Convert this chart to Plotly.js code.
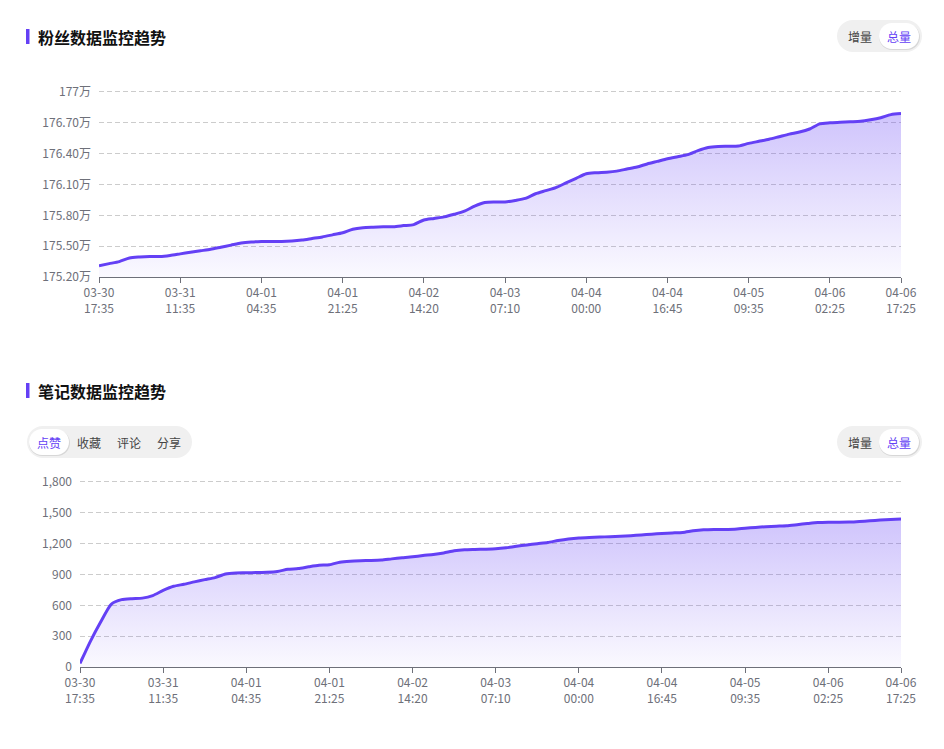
<!DOCTYPE html>
<html><head><meta charset="utf-8">
<script src="https://cdn.plot.ly/plotly-3.0.1.min.js"></script>
<style>html,body{margin:0;padding:0;background:#fff;} #chart{width:944px;height:749px;}</style>
</head><body><div id="chart"></div>
<script>
// ---- data ----
const tickIndex = [0, 8, 16, 24, 32, 40, 48, 56, 64, 72, 79];
const tickDates = ['03-30','03-31','04-01','04-01','04-02','04-03','04-04','04-04','04-05','04-06','04-06'];
const tickTimes = ['17:35','11:35','04:35','21:25','14:20','07:10','00:00','16:45','09:35','02:25','17:25'];

// 粉丝总量 (万)
const fansTotal = [
  175.31,175.33,175.35,175.385,175.395,175.40,175.40,175.41,175.425,175.44,
  175.455,175.47,175.49,175.51,175.53,175.54,175.545,175.545,175.545,175.55,
  175.56,175.575,175.59,175.61,175.63,175.665,175.68,175.685,175.688,175.69,
  175.70,175.71,175.755,175.77,175.785,175.81,175.84,175.89,175.925,175.93,
  175.93,175.945,175.965,176.01,176.04,176.07,176.115,176.16,176.205,176.215,
  176.22,176.23,176.25,176.27,176.30,176.325,176.35,176.37,176.39,176.43,
  176.46,176.47,176.472,176.475,176.50,176.52,176.54,176.565,176.59,176.61,
  176.64,176.69,176.70,176.705,176.71,176.715,176.73,176.75,176.78,176.79
];
const fansTickVals = [175.2, 175.5, 175.8, 176.1, 176.4, 176.7, 177];
const fansTickText = ['175.20万','175.50万','175.80万','176.10万','176.40万','176.70万','177万'];

// 点赞总量
const likesTotal = [
  35,250,440,610,655,665,670,695,745,785,
  805,828,850,870,905,915,916,919,922,930,
  950,958,975,990,995,1020,1030,1034,1036,1040,
  1052,1062,1072,1085,1095,1110,1130,1140,1143,1146,
  1150,1160,1175,1187,1200,1212,1230,1245,1255,1260,
  1264,1268,1272,1278,1285,1292,1299,1304,1309,1325,
  1335,1338,1338,1340,1350,1358,1365,1370,1374,1385,
  1396,1406,1409,1409,1410,1416,1422,1430,1436,1441
];
const likesTickVals = [0, 300, 600, 900, 1200, 1500, 1800];

const noteTabs = ['点赞','收藏','评论','分享'];
const modeTabs = ['增量','总量'];
const titles = ['粉丝数据监控趋势','笔记数据监控趋势'];

// ---- helpers ----
const W = 944, H = 749;
const X = v => v / W;
const Y = v => 1 - v / H;
const idx = fansTotal.map((_, i) => i);
const tickText = tickDates.map((d, i) => d + '<br>' + tickTimes[i]);

function pillPath(x0, y0, x1, y1) {
  const r = (y1 - y0) / 2, k = 0.5523 * r;
  const p = (x, y) => X(x) + ',' + Y(y);
  return 'M' + p(x0 + r, y0) + ' L' + p(x1 - r, y0) +
    ' C' + p(x1 - r + k, y0) + ' ' + p(x1, y0 + r - k) + ' ' + p(x1, y0 + r) +
    ' C' + p(x1, y0 + r + k) + ' ' + p(x1 - r + k, y1) + ' ' + p(x1 - r, y1) +
    ' L' + p(x0 + r, y1) +
    ' C' + p(x0 + r - k, y1) + ' ' + p(x0, y0 + r + k) + ' ' + p(x0, y0 + r) +
    ' C' + p(x0, y0 + r - k) + ' ' + p(x0 + r - k, y0) + ' ' + p(x0 + r, y0) + ' Z';
}
function pill(x0, y0, x1, y1, color) {
  return {type: 'path', xref: 'paper', yref: 'paper', path: pillPath(x0, y0, x1, y1),
          fillcolor: color, line: {width: 0}, layer: 'above'};
}

const PURPLE = '#6440f5';
const FONT = '"Noto Sans CJK SC", "Noto Sans", sans-serif';
const fillScale = [[0, 'rgba(100,64,245,0.03)'], [1, 'rgba(100,64,245,0.31)']];

const traces = [
  {x: idx, y: fansTotal, xaxis: 'x', yaxis: 'y', type: 'scatter', mode: 'lines',
   line: {color: PURPLE, width: 3, shape: 'spline', smoothing: 0.7},
   fill: 'tozeroy',
   fillgradient: {type: 'vertical', start: 175.2, stop: Math.max(...fansTotal), colorscale: fillScale},
   hoverinfo: 'skip'},
  {x: idx, y: likesTotal, xaxis: 'x2', yaxis: 'y2', type: 'scatter', mode: 'lines',
   line: {color: PURPLE, width: 3, shape: 'spline', smoothing: 0.6},
   fill: 'tozeroy',
   fillgradient: {type: 'vertical', start: 0, stop: Math.max(...likesTotal), colorscale: fillScale},
   hoverinfo: 'skip'}
];

const xCommon = {
  range: [0, idx.length - 1], tickmode: 'array', tickvals: tickIndex, ticktext: tickText,
  showgrid: false, zeroline: false, showline: true, linecolor: '#6e7079', linewidth: 1,
  ticks: 'outside', ticklen: 5, tickcolor: '#6e7079',
  tickfont: {family: FONT, size: 12, color: '#6e7079'}, fixedrange: true
};
const yCommon = {
  showgrid: true, gridcolor: '#cccccc', griddash: '5px,3px', gridwidth: 1,
  zeroline: false, showline: false, ticks: '', ticklabelstandoff: 7,
  tickfont: {family: FONT, size: 12, color: '#6e7079'}, fixedrange: true
};

const shapes = [
  // title bars
  {type: 'rect', xref: 'paper', yref: 'paper', x0: X(26), x1: X(29.5), y0: Y(44), y1: Y(29),
   fillcolor: PURPLE, line: {width: 0}},
  {type: 'rect', xref: 'paper', yref: 'paper', x0: X(26), x1: X(29.5), y0: Y(398), y1: Y(383),
   fillcolor: PURPLE, line: {width: 0}},
  // mode toggles
  pill(837, 20, 922, 52, '#f0f0f0'),
  pill(879, 24, 920, 50, 'rgba(0,0,0,0.10)'),
  pill(879, 23, 919, 49, '#ffffff'),
  pill(837, 426, 922, 458, '#f0f0f0'),
  pill(879, 430, 920, 456, 'rgba(0,0,0,0.10)'),
  pill(879, 429, 919, 455, '#ffffff'),
  // note tabs
  pill(27, 426, 192, 458, '#f0f0f0'),
  pill(29, 430, 70, 456, 'rgba(0,0,0,0.10)'),
  pill(29, 429, 69, 455, '#ffffff')
];

function txt(text, x, y, size, color, anchor, weight) {
  return {text: text, xref: 'paper', yref: 'paper', x: X(x), y: Y(y), showarrow: false,
          xanchor: anchor || 'center', yanchor: 'middle',
          font: {family: FONT, size: size, color: color, weight: weight || 400}};
}
const noteTabX = [49, 89, 129, 169];
const annotations = [
  txt(titles[0], 36, 36.5, 16, '#111111', 'left', 700),
  txt(titles[1], 36, 390.5, 16, '#111111', 'left', 700),
  txt(modeTabs[0], 859.5, 36.5, 12, '#444444'),
  txt(modeTabs[1], 899, 36.5, 12, PURPLE),
  txt(modeTabs[0], 859.5, 442.5, 12, '#444444'),
  txt(modeTabs[1], 899, 442.5, 12, PURPLE)
].concat(noteTabs.map((t, i) => txt(t, noteTabX[i], 442.5, 12, i === 0 ? PURPLE : '#444444')));

const layout = {
  width: W, height: H, margin: {l: 0, r: 0, t: 0, b: 0},
  paper_bgcolor: '#ffffff', plot_bgcolor: 'rgba(0,0,0,0)', showlegend: false,
  hovermode: false,
  xaxis: Object.assign({}, xCommon, {domain: [X(99), X(901)], anchor: 'y'}),
  yaxis: Object.assign({}, yCommon, {domain: [Y(277), Y(88.9)], anchor: 'x', range: [175.2, 177.03],
         tickmode: 'array', tickvals: fansTickVals, ticktext: fansTickText}),
  xaxis2: Object.assign({}, xCommon, {domain: [X(80), X(901)], anchor: 'y2'}),
  yaxis2: Object.assign({}, yCommon, {domain: [Y(667), Y(478.9)], anchor: 'x2', range: [0, 1830],
         tickmode: 'array', tickvals: likesTickVals, tickformat: ',d'}),
  shapes: shapes, annotations: annotations
};

Plotly.newPlot('chart', traces, layout, {displayModeBar: false, staticPlot: true});
</script></body></html>
